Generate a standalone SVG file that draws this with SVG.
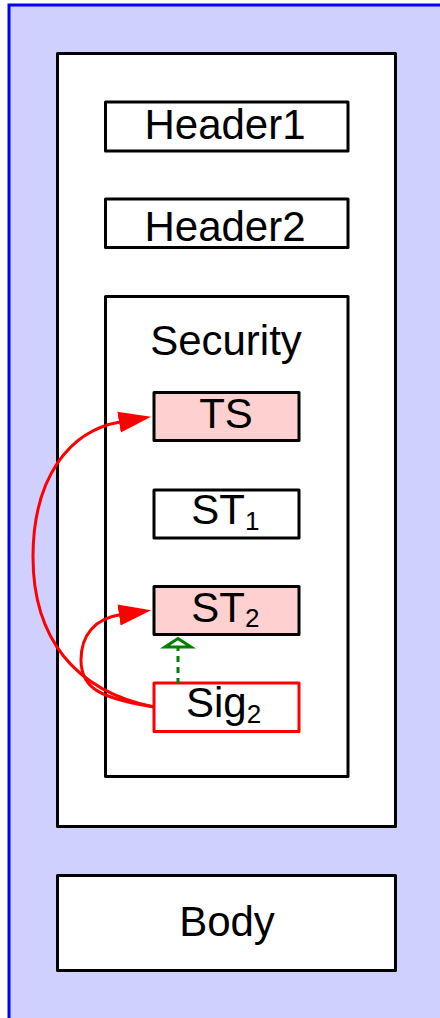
<svg xmlns="http://www.w3.org/2000/svg" width="440" height="1018" viewBox="0 0 440 1018">
<style>
.box{fill:#ffffff;stroke:#000000;stroke-width:3;stroke-linejoin:round}
.pink{fill:#ffd0d0}
.redb{stroke:#ff0000}
.lbl{font-family:"Liberation Sans",Arial,sans-serif;font-size:42px;fill:#000000}
.mid{text-anchor:middle}
.sub{font-size:26px}
.conn{fill:none;stroke:#ff0000;stroke-width:3}
.dep{fill:none;stroke:#008000;stroke-width:3;stroke-dasharray:6,5}
</style>
<defs>
<marker id="redArrow" viewBox="0 -11 33 22" refX="1" refY="0" markerWidth="33" markerHeight="22" markerUnits="userSpaceOnUse" orient="auto">
<path d="M0,-10.6 L32.5,0 L0,10.6 Z" fill="#ff0000"/>
</marker>
</defs>
<rect id="message" x="9" y="5" width="450" height="1030" fill="#d0d0ff" stroke="#0000ff" stroke-width="3"/>
<g id="envelope"><rect class="box" x="57.5" y="53.5" width="338" height="773"/></g>
<g id="header1"><rect class="box" x="105.5" y="102" width="242.5" height="49"/><text class="lbl mid" x="225" y="139">Header1</text></g>
<g id="header2"><rect class="box" x="105.5" y="199" width="242.5" height="48.5"/><text class="lbl mid" x="225" y="240.5">Header2</text></g>
<g id="security"><rect class="box" x="105.5" y="296.5" width="242.5" height="480"/><text class="lbl mid" x="226" y="355">Security</text></g>
<g id="ts"><rect class="box pink" x="154" y="392.5" width="145" height="48"/><text class="lbl mid" x="226" y="428">TS</text></g>
<g id="st1"><rect class="box" x="154" y="490" width="145" height="48"/><text class="lbl" x="191.3" y="523.5">ST<tspan class="sub" dy="6.5">1</tspan></text></g>
<g id="st2"><rect class="box pink" x="154" y="586.5" width="145" height="48"/><text class="lbl" x="191.3" y="621.5">ST<tspan class="sub" dy="5.5">2</tspan></text></g>
<g id="sig2"><rect class="box redb" x="154" y="683" width="145" height="48.5"/><text class="lbl" x="186" y="716.5">Sig<tspan class="sub" dy="6">2</tspan></text></g>
<g id="body"><rect class="box" x="57.5" y="875.5" width="338" height="95"/><text class="lbl mid" x="227" y="936">Body</text></g>
<g id="connectors">
<path class="conn" d="M154,707 C74,691 33,637 33,557 C33,477 70,430.5 120,422" marker-end="url(#redArrow)"/>
<path class="conn" d="M154,707 C99,698 81,688 81,660 C81,635 95,618.5 120,614.8" marker-end="url(#redArrow)"/>
<line class="dep" x1="178" y1="683" x2="178" y2="648" stroke-dashoffset="1"/>
<path d="M178,638.5 L165,647 L191,647 Z" fill="#ffffff" stroke="#008000" stroke-width="3" stroke-linejoin="miter"/>
</g>
</svg>
